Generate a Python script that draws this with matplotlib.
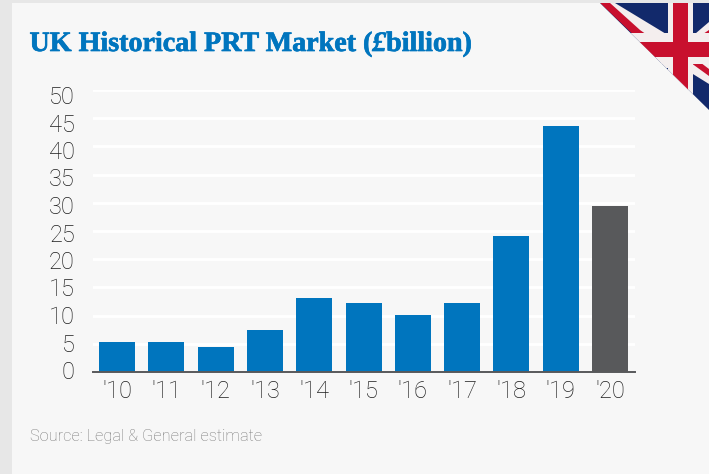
import matplotlib
matplotlib.use('Agg')
import matplotlib.pyplot as plt
import matplotlib.patheffects as pe
from matplotlib.patches import Polygon, Rectangle

years = ["'10", "'11", "'12", "'13", "'14", "'15", "'16", "'17", "'18", "'19", "'20"]
values = [5.3, 5.3, 4.4, 7.5, 13.1, 12.2, 10.1, 12.2, 24.2, 43.6, 29.5]
bar_colors = ['#0075be'] * 10 + ['#58595b']
y_ticks = list(range(0, 55, 5))

title_a = 'UK Historical PRT Market ('
title_b = '£'
title_c = 'billion)'
source = 'Source: Legal & General estimate'

W, H = 709, 474
fig = plt.figure(figsize=(W / 100, H / 100), dpi=100, facecolor='#e7e7e7')

# overlay in pixel coordinates for the panel, flag and texts
bg = fig.add_axes([0, 0, 1, 1])
bg.set_xlim(0, W)
bg.set_ylim(H, 0)
bg.axis('off')
bg.add_patch(Rectangle((12, 3), W - 12, H - 3, color='#f7f7f7', lw=0))

# flag corner
corner = Polygon([(600, 3), (709, 3), (709, 110)], closed=True, transform=bg.transData, fc='none', ec='none')
bg.add_patch(corner)


def flag_part(pts, color):
    p = Polygon(pts, closed=True, fc=color, ec='none', zorder=2)
    bg.add_patch(p)
    p.set_clip_path(corner)


flag_part([(590, 0), (709, 0), (709, 120), (590, 120)], '#12296b')
flag_part([(600, 3), (615, 3), (709, 60), (709, 84), (680, 66)], '#f4eeee')
flag_part([(600, 3), (610, 3), (640, 30), (660, 44), (640, 41)], '#c8102e')
flag_part([(709, 22), (709, 42), (672, 68), (655, 68)], '#f4eeee')
flag_part([(709, 30), (709, 36), (684, 52), (676, 52)], '#c8102e')
flag_part([(684, 50), (709, 69), (709, 76), (680, 55)], '#c8102e')
flag_part([(668, 3), (693, 3), (693, 110), (668, 110)], '#f4eeee')
flag_part([(630, 33), (709, 33), (709, 64), (630, 64)], '#f4eeee')
flag_part([(673, 3), (688, 3), (688, 110), (673, 110)], '#c8102e')
flag_part([(630, 42), (709, 42), (709, 57), (630, 57)], '#c8102e')

# the pound sign is italic in the original, so the title is three pieces
tk = dict(color='#0075be', fontsize=20.2, fontweight='bold', family='Liberation Serif',
          path_effects=[pe.withStroke(linewidth=0.5, foreground='#0075be')])
t1 = bg.text(29.5, 51, title_a, va='baseline', ha='left', **tk)
t2 = bg.annotate(title_b, xy=(1, 0), xycoords=t1, va='bottom', ha='left', fontstyle='italic', **tk)
bg.annotate(title_c, xy=(1, 0), xycoords=t2, va='bottom', ha='left', **tk)
bg.text(30, 441, source, color='#7a7a7a', fontsize=11.8, fontweight='light',
        family='Roboto', va='baseline', ha='left')

ax = fig.add_axes([93 / W, 1 - 372 / H, 542 / W, 282 / H])
ax.patch.set_alpha(0)
x = list(range(len(years)))
ax.bar(x, values, width=0.73, color=bar_colors, zorder=3)
ax.set_xlim(-0.487, 10.507)
ax.set_ylim(0, 50)
ax.set_yticks(y_ticks)
ax.set_yticklabels([])
ax.set_xticks(x)
ax.set_xticklabels(years)
ax.grid(axis='y', color='white', lw=2, zorder=1)
ax.set_axisbelow(True)
for s in ['top', 'right', 'left']:
    ax.spines[s].set_visible(False)
ax.spines['bottom'].set_color('#58595b')
ax.spines['bottom'].set_linewidth(1.4)
ax.spines['bottom'].set_zorder(4)
ax.tick_params(length=0)
ax.tick_params(axis='x', pad=6)

# y labels sit on a slightly tighter scale than the gridlines in the original
ax2 = fig.add_axes([93 / W, 1 - 370 / H, 542 / W, 275 / H])
ax2.patch.set_alpha(0)
ax2.set_ylim(0, 50)
ax2.set_yticks(y_ticks)
ax2.set_xticks([])
for s in ax2.spines.values():
    s.set_visible(False)
ax2.tick_params(length=0, pad=13)

for lab in ax.get_xticklabels() + ax2.get_yticklabels():
    lab.set_family('Roboto')
    lab.set_fontweight('light')
    lab.set_fontsize(17)
    lab.set_color('#1e1e1e')

fig.savefig('out.png', dpi=100, facecolor=fig.get_facecolor())
